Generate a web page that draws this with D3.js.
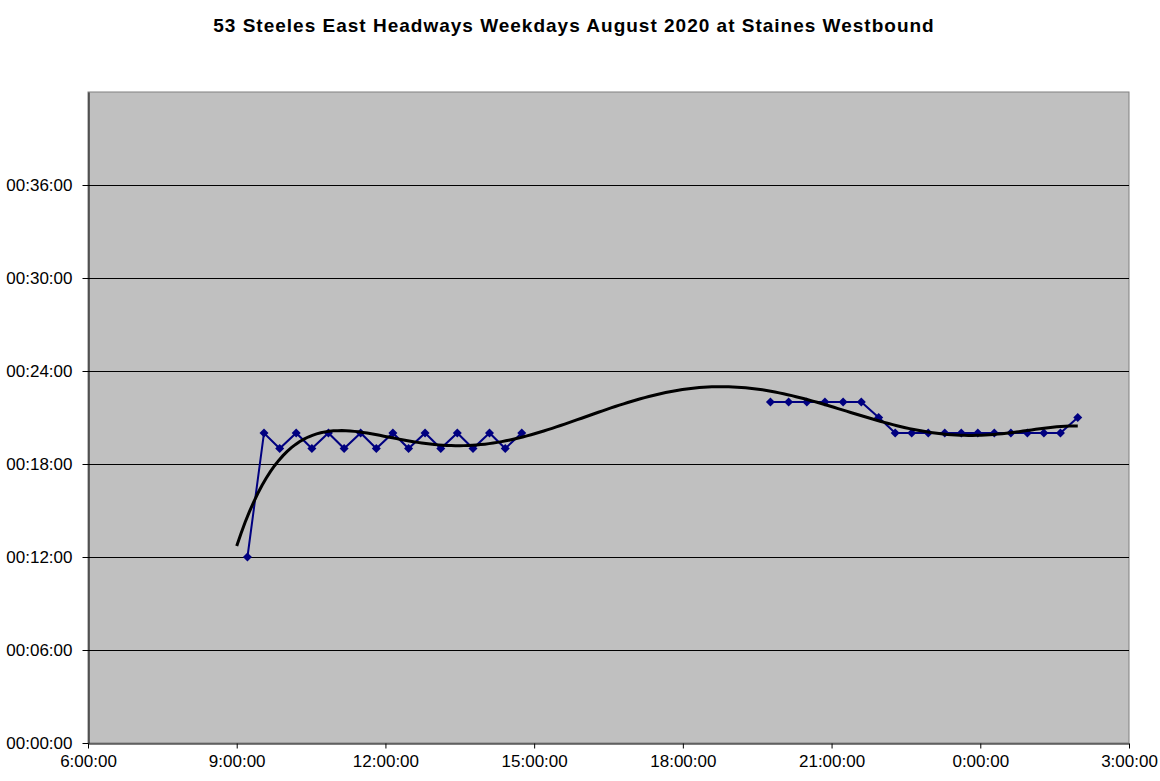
<!DOCTYPE html>
<html><head><meta charset="utf-8">
<script src="https://cdn.jsdelivr.net/npm/d3@7"></script>
<style>body{margin:0;background:#fff}svg{display:block}</style>
</head><body>
<svg id="c" width="1160" height="781"></svg>
<script>
const titleText = "53 Steeles East Headways Weekdays August 2020 at Staines Westbound";
// departure times and headways (minutes)
const timesA = ["9:13","9:33","9:52","10:12","10:31","10:51","11:10","11:30","11:49","12:09","12:28","12:48","13:07","13:27","13:46","14:06","14:25","14:45"];
const headA  = [12,20,19,20,19,20,19,20,19,20,19,20,19,20,19,20,19,20];
const timesB = ["19:46","20:08","20:30","20:52","21:14","21:36","21:57","22:17","22:37","22:57","23:17","23:37","23:57","0:17","0:37","0:57","1:17","1:37","1:58"];
const headB  = [22,22,22,22,22,22,21,20,20,20,20,20,20,20,20,20,20,20,21];
const xTickLabels = ["6:00:00","9:00:00","12:00:00","15:00:00","18:00:00","21:00:00","0:00:00","3:00:00"];
const yTickLabels = ["00:00:00","00:06:00","00:12:00","00:18:00","00:24:00","00:30:00","00:36:00"];
const trendStart = "9:00";

function toHours(s){const [h,m]=s.split(":").map(Number);let v=h+m/60;if(v<6)v+=24;return v;}
const segA = timesA.map((t,i)=>({x:toHours(t),y:headA[i]}));
const segB = timesB.map((t,i)=>({x:toHours(t),y:headB[i]}));
const all = segA.concat(segB);

const svg = d3.select("#c");
const L=88,R=1129,T=92,B=743;
const x = d3.scaleLinear().domain([6,27]).range([L,R]);
const y = d3.scaleLinear().domain([0,42]).range([B,T]);

svg.append("text").attr("x",574).attr("y",32).attr("text-anchor","middle")
  .attr("font-family","Liberation Sans, Arial, sans-serif").attr("font-weight","bold").attr("font-size",19)
  .attr("letter-spacing","1px")
  .text(titleText);

svg.append("rect").attr("x",L).attr("y",T).attr("width",R-L).attr("height",B-T)
  .attr("fill","#c0c0c0").attr("stroke","#808080").attr("stroke-width",1);

const yTicks = yTickLabels.map((d,i)=>i*6);
svg.append("g").selectAll("line").data(yTicks.filter(v=>v>0)).join("line")
  .attr("x1",L).attr("x2",R).attr("y1",d=>Math.round(y(d))+0.5).attr("y2",d=>Math.round(y(d))+0.5)
  .attr("stroke","#000").attr("stroke-width",1);

const yAxis = d3.axisLeft(y).tickValues(yTicks).tickSize(6).tickSizeOuter(0).tickPadding(10)
  .tickFormat((d,i)=>yTickLabels[i]);
const gy = svg.append("g").attr("transform",`translate(${L+0.5},0)`).call(yAxis);
const xTicks = xTickLabels.map((d,i)=>6+i*3);
const xAxis = d3.axisBottom(x).tickValues(xTicks).tickSize(5).tickSizeOuter(0).tickPadding(6)
  .tickFormat((d,i)=>xTickLabels[i]);
const gx = svg.append("g").attr("transform",`translate(0,${B+0.5})`).call(xAxis);
[gx,gy].forEach(g=>{g.selectAll("text").attr("font-family","Liberation Sans, Arial, sans-serif").attr("font-size",17).attr("fill","#000");
  g.selectAll("line,path").attr("stroke","#000");});

// series lines
const line = d3.line().x(d=>x(d.x)).y(d=>y(d.y));
[segA,segB].forEach(s=>svg.append("path").datum(s).attr("d",line).attr("fill","none")
  .attr("stroke","#000080").attr("stroke-width",2));
svg.append("g").selectAll("path").data(all).join("path")
  .attr("transform",d=>`translate(${x(d.x)},${y(d.y)})`)
  .attr("d","M0,-4.5L4.5,0L0,4.5L-4.5,0Z").attr("fill","#000080");

// polynomial trendline (least squares, order 6)
function polyfit(pts,deg){
  const xm=d3.mean(pts,p=>p.x), xs=(d3.max(pts,p=>p.x)-d3.min(pts,p=>p.x))/2;
  const n=deg+1, A=Array.from({length:n},()=>new Array(n+1).fill(0));
  pts.forEach(p=>{const u=(p.x-xm)/xs;const pw=[];for(let k=0;k<2*n;k++)pw.push(Math.pow(u,k));
    for(let i=0;i<n;i++){for(let j=0;j<n;j++)A[i][j]+=pw[i+j];A[i][n]+=pw[i]*p.y;}});
  for(let i=0;i<n;i++){let m=i;for(let r=i+1;r<n;r++)if(Math.abs(A[r][i])>Math.abs(A[m][i]))m=r;
    [A[i],A[m]]=[A[m],A[i]];for(let r=0;r<n;r++){if(r===i)continue;const f=A[r][i]/A[i][i];
      for(let c=i;c<=n;c++)A[r][c]-=f*A[i][c];}}
  const coef=A.map((row,i)=>row[n]/row[i]);
  return t=>{const u=(t-xm)/xs;let s=0;for(let k=n-1;k>=0;k--)s=s*u+coef[k];return s;};
}
const f = polyfit(all,6);
const x0=toHours(trendStart), x1=d3.max(all,p=>p.x);
const trend = d3.range(0,201).map(i=>{const t=x0+(x1-x0)*i/200;return {x:t,y:f(t)};});
svg.append("path").datum(trend).attr("d",line).attr("fill","none").attr("stroke","#000").attr("stroke-width",3);
</script>
</body></html>
